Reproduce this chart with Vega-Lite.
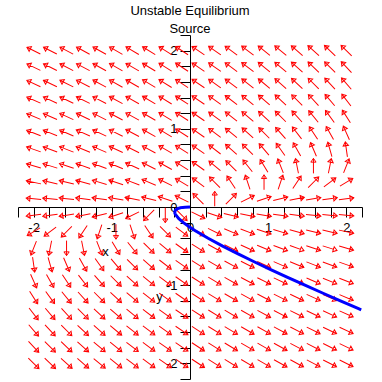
{
  "$schema": "https://vega.github.io/schema/vega-lite/v6.json",
  "width": 344,
  "height": 344,
  "autosize": {"type": "none"},
  "padding": {"left": 18, "top": 35, "right": 20, "bottom": 3},
  "background": "white",
  "config": {"view": {"stroke": null}, "axis": {"labelOverlap": false}},
  "title": {
    "text": ["Unstable Equilibrium", "Source"],
    "font": "Liberation Sans",
    "fontSize": 13,
    "fontWeight": "normal",
    "color": "black",
    "anchor": "middle",
    "lineHeight": 17.5,
    "offset": -1
  },
  "datasets": {
    "arrows": [
      {"x":-2,"y":2,"a":-63.4},{"x":-1.789,"y":2,"a":-62.8},{"x":-1.579,"y":2,"a":-62.2},{"x":-1.368,"y":2,"a":-61.5},{"x":-1.158,"y":2,"a":-60.8},{"x":-0.947,"y":2,"a":-60.1},{"x":-0.737,"y":2,"a":-59.3},{"x":-0.526,"y":2,"a":-58.5},{"x":-0.316,"y":2,"a":-57.7},{"x":-0.105,"y":2,"a":-56.8},{"x":0.105,"y":2,"a":-55.8},{"x":0.316,"y":2,"a":-54.9},{"x":0.526,"y":2,"a":-53.8},{"x":0.737,"y":2,"a":-52.8},{"x":0.947,"y":2,"a":-51.6},{"x":1.158,"y":2,"a":-50.4},{"x":1.368,"y":2,"a":-49.2},{"x":1.579,"y":2,"a":-47.9},{"x":1.789,"y":2,"a":-46.5},{"x":2,"y":2,"a":-45},
      {"x":-2,"y":1.789,"a":-64.1},{"x":-1.789,"y":1.789,"a":-63.4},{"x":-1.579,"y":1.789,"a":-62.7},{"x":-1.368,"y":1.789,"a":-62.0},{"x":-1.158,"y":1.789,"a":-61.3},{"x":-0.947,"y":1.789,"a":-60.5},{"x":-0.737,"y":1.789,"a":-59.6},{"x":-0.526,"y":1.789,"a":-58.7},{"x":-0.316,"y":1.789,"a":-57.8},{"x":-0.105,"y":1.789,"a":-56.8},{"x":0.105,"y":1.789,"a":-55.8},{"x":0.316,"y":1.789,"a":-54.7},{"x":0.526,"y":1.789,"a":-53.5},{"x":0.737,"y":1.789,"a":-52.3},{"x":0.947,"y":1.789,"a":-51.0},{"x":1.158,"y":1.789,"a":-49.6},{"x":1.368,"y":1.789,"a":-48.2},{"x":1.579,"y":1.789,"a":-46.6},{"x":1.789,"y":1.789,"a":-45},{"x":2,"y":1.789,"a":-43.3},
      {"x":-2,"y":1.579,"a":-64.9},{"x":-1.789,"y":1.579,"a":-64.2},{"x":-1.579,"y":1.579,"a":-63.4},{"x":-1.368,"y":1.579,"a":-62.6},{"x":-1.158,"y":1.579,"a":-61.8},{"x":-0.947,"y":1.579,"a":-60.9},{"x":-0.737,"y":1.579,"a":-60.0},{"x":-0.526,"y":1.579,"a":-59.0},{"x":-0.316,"y":1.579,"a":-58.0},{"x":-0.105,"y":1.579,"a":-56.9},{"x":0.105,"y":1.579,"a":-55.7},{"x":0.316,"y":1.579,"a":-54.5},{"x":0.526,"y":1.579,"a":-53.1},{"x":0.737,"y":1.579,"a":-51.7},{"x":0.947,"y":1.579,"a":-50.2},{"x":1.158,"y":1.579,"a":-48.6},{"x":1.368,"y":1.579,"a":-46.9},{"x":1.579,"y":1.579,"a":-45},{"x":1.789,"y":1.579,"a":-43.0},{"x":2,"y":1.579,"a":-40.9},
      {"x":-2,"y":1.368,"a":-65.9},{"x":-1.789,"y":1.368,"a":-65.1},{"x":-1.579,"y":1.368,"a":-64.3},{"x":-1.368,"y":1.368,"a":-63.4},{"x":-1.158,"y":1.368,"a":-62.5},{"x":-0.947,"y":1.368,"a":-61.6},{"x":-0.737,"y":1.368,"a":-60.5},{"x":-0.526,"y":1.368,"a":-59.4},{"x":-0.316,"y":1.368,"a":-58.2},{"x":-0.105,"y":1.368,"a":-57.0},{"x":0.105,"y":1.368,"a":-55.6},{"x":0.316,"y":1.368,"a":-54.2},{"x":0.526,"y":1.368,"a":-52.6},{"x":0.737,"y":1.368,"a":-50.9},{"x":0.947,"y":1.368,"a":-49.1},{"x":1.158,"y":1.368,"a":-47.1},{"x":1.368,"y":1.368,"a":-45},{"x":1.579,"y":1.368,"a":-42.7},{"x":1.789,"y":1.368,"a":-40.2},{"x":2,"y":1.368,"a":-37.6},
      {"x":-2,"y":1.158,"a":-67.1},{"x":-1.789,"y":1.158,"a":-66.3},{"x":-1.579,"y":1.158,"a":-65.4},{"x":-1.368,"y":1.158,"a":-64.4},{"x":-1.158,"y":1.158,"a":-63.4},{"x":-0.947,"y":1.158,"a":-62.4},{"x":-0.737,"y":1.158,"a":-61.2},{"x":-0.526,"y":1.158,"a":-59.9},{"x":-0.316,"y":1.158,"a":-58.6},{"x":-0.105,"y":1.158,"a":-57.1},{"x":0.105,"y":1.158,"a":-55.5},{"x":0.316,"y":1.158,"a":-53.8},{"x":0.526,"y":1.158,"a":-51.8},{"x":0.737,"y":1.158,"a":-49.8},{"x":0.947,"y":1.158,"a":-47.5},{"x":1.158,"y":1.158,"a":-45},{"x":1.368,"y":1.158,"a":-42.3},{"x":1.579,"y":1.158,"a":-39.3},{"x":1.789,"y":1.158,"a":-36.0},{"x":2,"y":1.158,"a":-32.5},
      {"x":-2,"y":0.947,"a":-68.6},{"x":-1.789,"y":0.947,"a":-67.7},{"x":-1.579,"y":0.947,"a":-66.8},{"x":-1.368,"y":0.947,"a":-65.8},{"x":-1.158,"y":0.947,"a":-64.7},{"x":-0.947,"y":0.947,"a":-63.4},{"x":-0.737,"y":0.947,"a":-62.1},{"x":-0.526,"y":0.947,"a":-60.6},{"x":-0.316,"y":0.947,"a":-59.0},{"x":-0.105,"y":0.947,"a":-57.3},{"x":0.105,"y":0.947,"a":-55.3},{"x":0.316,"y":0.947,"a":-53.1},{"x":0.526,"y":0.947,"a":-50.7},{"x":0.737,"y":0.947,"a":-48.0},{"x":0.947,"y":0.947,"a":-45},{"x":1.158,"y":0.947,"a":-41.6},{"x":1.368,"y":0.947,"a":-37.9},{"x":1.579,"y":0.947,"a":-33.7},{"x":1.789,"y":0.947,"a":-29.1},{"x":2,"y":0.947,"a":-24.0},
      {"x":-2,"y":0.737,"a":-70.7},{"x":-1.789,"y":0.737,"a":-69.8},{"x":-1.579,"y":0.737,"a":-68.7},{"x":-1.368,"y":0.737,"a":-67.6},{"x":-1.158,"y":0.737,"a":-66.4},{"x":-0.947,"y":0.737,"a":-65.0},{"x":-0.737,"y":0.737,"a":-63.4},{"x":-0.526,"y":0.737,"a":-61.7},{"x":-0.316,"y":0.737,"a":-59.7},{"x":-0.105,"y":0.737,"a":-57.5},{"x":0.105,"y":0.737,"a":-55.0},{"x":0.316,"y":0.737,"a":-52.1},{"x":0.526,"y":0.737,"a":-48.8},{"x":0.737,"y":0.737,"a":-45},{"x":0.947,"y":0.737,"a":-40.6},{"x":1.158,"y":0.737,"a":-35.5},{"x":1.368,"y":0.737,"a":-29.7},{"x":1.579,"y":0.737,"a":-23.2},{"x":1.789,"y":0.737,"a":-16.0},{"x":2,"y":0.737,"a":-8.1},
      {"x":-2,"y":0.526,"a":-73.6},{"x":-1.789,"y":0.526,"a":-72.6},{"x":-1.579,"y":0.526,"a":-71.6},{"x":-1.368,"y":0.526,"a":-70.3},{"x":-1.158,"y":0.526,"a":-69.0},{"x":-0.947,"y":0.526,"a":-67.4},{"x":-0.737,"y":0.526,"a":-65.6},{"x":-0.526,"y":0.526,"a":-63.4},{"x":-0.316,"y":0.526,"a":-60.9},{"x":-0.105,"y":0.526,"a":-58.0},{"x":0.105,"y":0.526,"a":-54.5},{"x":0.316,"y":0.526,"a":-50.2},{"x":0.526,"y":0.526,"a":-45},{"x":0.737,"y":0.526,"a":-38.7},{"x":0.947,"y":0.526,"a":-31.0},{"x":1.158,"y":0.526,"a":-21.8},{"x":1.368,"y":0.526,"a":-11.3},{"x":1.579,"y":0.526,"a":0},{"x":1.789,"y":0.526,"a":11.3},{"x":2,"y":0.526,"a":21.8},
      {"x":-2,"y":0.316,"a":-77.9},{"x":-1.789,"y":0.316,"a":-77.0},{"x":-1.579,"y":0.316,"a":-76.0},{"x":-1.368,"y":0.316,"a":-74.7},{"x":-1.158,"y":0.316,"a":-73.3},{"x":-0.947,"y":0.316,"a":-71.6},{"x":-0.737,"y":0.316,"a":-69.4},{"x":-0.526,"y":0.316,"a":-66.8},{"x":-0.316,"y":0.316,"a":-63.4},{"x":-0.105,"y":0.316,"a":-59.0},{"x":0.105,"y":0.316,"a":-53.1},{"x":0.316,"y":0.316,"a":-45},{"x":0.526,"y":0.316,"a":-33.7},{"x":0.737,"y":0.316,"a":-18.4},{"x":0.947,"y":0.316,"a":0},{"x":1.158,"y":0.316,"a":18.4},{"x":1.368,"y":0.316,"a":33.7},{"x":1.579,"y":0.316,"a":45},{"x":1.789,"y":0.316,"a":53.1},{"x":2,"y":0.316,"a":59.0},
      {"x":-2,"y":0.105,"a":-84.8},{"x":-1.789,"y":0.105,"a":-84.3},{"x":-1.579,"y":0.105,"a":-83.7},{"x":-1.368,"y":0.105,"a":-82.9},{"x":-1.158,"y":0.105,"a":-81.9},{"x":-0.947,"y":0.105,"a":-80.5},{"x":-0.737,"y":0.105,"a":-78.7},{"x":-0.526,"y":0.105,"a":-76.0},{"x":-0.316,"y":0.105,"a":-71.6},{"x":-0.105,"y":0.105,"a":-63.4},{"x":0.105,"y":0.105,"a":-45},{"x":0.316,"y":0.105,"a":0},{"x":0.526,"y":0.105,"a":45},{"x":0.737,"y":0.105,"a":63.4},{"x":0.947,"y":0.105,"a":71.6},{"x":1.158,"y":0.105,"a":76.0},{"x":1.368,"y":0.105,"a":78.7},{"x":1.579,"y":0.105,"a":80.5},{"x":1.789,"y":0.105,"a":81.9},{"x":2,"y":0.105,"a":82.9},
      {"x":-2,"y":-0.105,"a":262.9},{"x":-1.789,"y":-0.105,"a":261.9},{"x":-1.579,"y":-0.105,"a":260.5},{"x":-1.368,"y":-0.105,"a":258.7},{"x":-1.158,"y":-0.105,"a":256.0},{"x":-0.947,"y":-0.105,"a":251.6},{"x":-0.737,"y":-0.105,"a":243.4},{"x":-0.526,"y":-0.105,"a":225},{"x":-0.316,"y":-0.105,"a":180},{"x":-0.105,"y":-0.105,"a":135},{"x":0.105,"y":-0.105,"a":116.6},{"x":0.316,"y":-0.105,"a":108.4},{"x":0.526,"y":-0.105,"a":104.0},{"x":0.737,"y":-0.105,"a":101.3},{"x":0.947,"y":-0.105,"a":99.5},{"x":1.158,"y":-0.105,"a":98.1},{"x":1.368,"y":-0.105,"a":97.1},{"x":1.579,"y":-0.105,"a":96.3},{"x":1.789,"y":-0.105,"a":95.7},{"x":2,"y":-0.105,"a":95.2},
      {"x":-2,"y":-0.316,"a":239.0},{"x":-1.789,"y":-0.316,"a":233.1},{"x":-1.579,"y":-0.316,"a":225},{"x":-1.368,"y":-0.316,"a":213.7},{"x":-1.158,"y":-0.316,"a":198.4},{"x":-0.947,"y":-0.316,"a":180},{"x":-0.737,"y":-0.316,"a":161.6},{"x":-0.526,"y":-0.316,"a":146.3},{"x":-0.316,"y":-0.316,"a":135},{"x":-0.105,"y":-0.316,"a":126.9},{"x":0.105,"y":-0.316,"a":121.0},{"x":0.316,"y":-0.316,"a":116.6},{"x":0.526,"y":-0.316,"a":113.2},{"x":0.737,"y":-0.316,"a":110.6},{"x":0.947,"y":-0.316,"a":108.4},{"x":1.158,"y":-0.316,"a":106.7},{"x":1.368,"y":-0.316,"a":105.3},{"x":1.579,"y":-0.316,"a":104.0},{"x":1.789,"y":-0.316,"a":103.0},{"x":2,"y":-0.316,"a":102.1},
      {"x":-2,"y":-0.526,"a":201.8},{"x":-1.789,"y":-0.526,"a":191.3},{"x":-1.579,"y":-0.526,"a":180},{"x":-1.368,"y":-0.526,"a":168.7},{"x":-1.158,"y":-0.526,"a":158.2},{"x":-0.947,"y":-0.526,"a":149.0},{"x":-0.737,"y":-0.526,"a":141.3},{"x":-0.526,"y":-0.526,"a":135},{"x":-0.316,"y":-0.526,"a":129.8},{"x":-0.105,"y":-0.526,"a":125.5},{"x":0.105,"y":-0.526,"a":122.0},{"x":0.316,"y":-0.526,"a":119.1},{"x":0.526,"y":-0.526,"a":116.6},{"x":0.737,"y":-0.526,"a":114.4},{"x":0.947,"y":-0.526,"a":112.6},{"x":1.158,"y":-0.526,"a":111.0},{"x":1.368,"y":-0.526,"a":109.7},{"x":1.579,"y":-0.526,"a":108.4},{"x":1.789,"y":-0.526,"a":107.4},{"x":2,"y":-0.526,"a":106.4},
      {"x":-2,"y":-0.737,"a":171.9},{"x":-1.789,"y":-0.737,"a":164.0},{"x":-1.579,"y":-0.737,"a":156.8},{"x":-1.368,"y":-0.737,"a":150.3},{"x":-1.158,"y":-0.737,"a":144.5},{"x":-0.947,"y":-0.737,"a":139.4},{"x":-0.737,"y":-0.737,"a":135},{"x":-0.526,"y":-0.737,"a":131.2},{"x":-0.316,"y":-0.737,"a":127.9},{"x":-0.105,"y":-0.737,"a":125.0},{"x":0.105,"y":-0.737,"a":122.5},{"x":0.316,"y":-0.737,"a":120.3},{"x":0.526,"y":-0.737,"a":118.3},{"x":0.737,"y":-0.737,"a":116.6},{"x":0.947,"y":-0.737,"a":115.0},{"x":1.158,"y":-0.737,"a":113.6},{"x":1.368,"y":-0.737,"a":112.4},{"x":1.579,"y":-0.737,"a":111.3},{"x":1.789,"y":-0.737,"a":110.2},{"x":2,"y":-0.737,"a":109.3},
      {"x":-2,"y":-0.947,"a":156.0},{"x":-1.789,"y":-0.947,"a":150.9},{"x":-1.579,"y":-0.947,"a":146.3},{"x":-1.368,"y":-0.947,"a":142.1},{"x":-1.158,"y":-0.947,"a":138.4},{"x":-0.947,"y":-0.947,"a":135},{"x":-0.737,"y":-0.947,"a":132.0},{"x":-0.526,"y":-0.947,"a":129.3},{"x":-0.316,"y":-0.947,"a":126.9},{"x":-0.105,"y":-0.947,"a":124.7},{"x":0.105,"y":-0.947,"a":122.7},{"x":0.316,"y":-0.947,"a":121.0},{"x":0.526,"y":-0.947,"a":119.4},{"x":0.737,"y":-0.947,"a":117.9},{"x":0.947,"y":-0.947,"a":116.6},{"x":1.158,"y":-0.947,"a":115.3},{"x":1.368,"y":-0.947,"a":114.2},{"x":1.579,"y":-0.947,"a":113.2},{"x":1.789,"y":-0.947,"a":112.3},{"x":2,"y":-0.947,"a":111.4},
      {"x":-2,"y":-1.158,"a":147.5},{"x":-1.789,"y":-1.158,"a":144.0},{"x":-1.579,"y":-1.158,"a":140.7},{"x":-1.368,"y":-1.158,"a":137.7},{"x":-1.158,"y":-1.158,"a":135},{"x":-0.947,"y":-1.158,"a":132.5},{"x":-0.737,"y":-1.158,"a":130.2},{"x":-0.526,"y":-1.158,"a":128.2},{"x":-0.316,"y":-1.158,"a":126.2},{"x":-0.105,"y":-1.158,"a":124.5},{"x":0.105,"y":-1.158,"a":122.9},{"x":0.316,"y":-1.158,"a":121.4},{"x":0.526,"y":-1.158,"a":120.1},{"x":0.737,"y":-1.158,"a":118.8},{"x":0.947,"y":-1.158,"a":117.6},{"x":1.158,"y":-1.158,"a":116.6},{"x":1.368,"y":-1.158,"a":115.6},{"x":1.579,"y":-1.158,"a":114.6},{"x":1.789,"y":-1.158,"a":113.7},{"x":2,"y":-1.158,"a":112.9},
      {"x":-2,"y":-1.368,"a":142.4},{"x":-1.789,"y":-1.368,"a":139.8},{"x":-1.579,"y":-1.368,"a":137.3},{"x":-1.368,"y":-1.368,"a":135},{"x":-1.158,"y":-1.368,"a":132.9},{"x":-0.947,"y":-1.368,"a":130.9},{"x":-0.737,"y":-1.368,"a":129.1},{"x":-0.526,"y":-1.368,"a":127.4},{"x":-0.316,"y":-1.368,"a":125.8},{"x":-0.105,"y":-1.368,"a":124.4},{"x":0.105,"y":-1.368,"a":123.0},{"x":0.316,"y":-1.368,"a":121.8},{"x":0.526,"y":-1.368,"a":120.6},{"x":0.737,"y":-1.368,"a":119.5},{"x":0.947,"y":-1.368,"a":118.4},{"x":1.158,"y":-1.368,"a":117.5},{"x":1.368,"y":-1.368,"a":116.6},{"x":1.579,"y":-1.368,"a":115.7},{"x":1.789,"y":-1.368,"a":114.9},{"x":2,"y":-1.368,"a":114.1},
      {"x":-2,"y":-1.579,"a":139.1},{"x":-1.789,"y":-1.579,"a":137.0},{"x":-1.579,"y":-1.579,"a":135},{"x":-1.368,"y":-1.579,"a":133.1},{"x":-1.158,"y":-1.579,"a":131.4},{"x":-0.947,"y":-1.579,"a":129.8},{"x":-0.737,"y":-1.579,"a":128.3},{"x":-0.526,"y":-1.579,"a":126.9},{"x":-0.316,"y":-1.579,"a":125.5},{"x":-0.105,"y":-1.579,"a":124.3},{"x":0.105,"y":-1.579,"a":123.1},{"x":0.316,"y":-1.579,"a":122.0},{"x":0.526,"y":-1.579,"a":121.0},{"x":0.737,"y":-1.579,"a":120.0},{"x":0.947,"y":-1.579,"a":119.1},{"x":1.158,"y":-1.579,"a":118.2},{"x":1.368,"y":-1.579,"a":117.4},{"x":1.579,"y":-1.579,"a":116.6},{"x":1.789,"y":-1.579,"a":115.8},{"x":2,"y":-1.579,"a":115.1},
      {"x":-2,"y":-1.789,"a":136.7},{"x":-1.789,"y":-1.789,"a":135},{"x":-1.579,"y":-1.789,"a":133.4},{"x":-1.368,"y":-1.789,"a":131.8},{"x":-1.158,"y":-1.789,"a":130.4},{"x":-0.947,"y":-1.789,"a":129.0},{"x":-0.737,"y":-1.789,"a":127.7},{"x":-0.526,"y":-1.789,"a":126.5},{"x":-0.316,"y":-1.789,"a":125.3},{"x":-0.105,"y":-1.789,"a":124.2},{"x":0.105,"y":-1.789,"a":123.2},{"x":0.316,"y":-1.789,"a":122.2},{"x":0.526,"y":-1.789,"a":121.3},{"x":0.737,"y":-1.789,"a":120.4},{"x":0.947,"y":-1.789,"a":119.5},{"x":1.158,"y":-1.789,"a":118.7},{"x":1.368,"y":-1.789,"a":118.0},{"x":1.579,"y":-1.789,"a":117.3},{"x":1.789,"y":-1.789,"a":116.6},{"x":2,"y":-1.789,"a":115.9},
      {"x":-2,"y":-2,"a":135},{"x":-1.789,"y":-2,"a":133.5},{"x":-1.579,"y":-2,"a":132.1},{"x":-1.368,"y":-2,"a":130.8},{"x":-1.158,"y":-2,"a":129.6},{"x":-0.947,"y":-2,"a":128.4},{"x":-0.737,"y":-2,"a":127.2},{"x":-0.526,"y":-2,"a":126.2},{"x":-0.316,"y":-2,"a":125.1},{"x":-0.105,"y":-2,"a":124.2},{"x":0.105,"y":-2,"a":123.2},{"x":0.316,"y":-2,"a":122.3},{"x":0.526,"y":-2,"a":121.5},{"x":0.737,"y":-2,"a":120.7},{"x":0.947,"y":-2,"a":119.9},{"x":1.158,"y":-2,"a":119.2},{"x":1.368,"y":-2,"a":118.5},{"x":1.579,"y":-2,"a":117.8},{"x":1.789,"y":-2,"a":117.2},{"x":2,"y":-2,"a":116.6}
    ],
    "curve": [
      {"t":0,"x":0,"y":0},{"t":1,"x":-0.062,"y":-0.002},{"t":2,"x":-0.093,"y":-0.005},{"t":3,"x":-0.123,"y":-0.01},{"t":4,"x":-0.156,"y":-0.02},{"t":5,"x":-0.186,"y":-0.04},{"t":6,"x":-0.195,"y":-0.06},{"t":7,"x":-0.193,"y":-0.08},{"t":8,"x":-0.184,"y":-0.1},{"t":9,"x":-0.143,"y":-0.15},{"t":10,"x":-0.084,"y":-0.2},{"t":11,"x":-0.015,"y":-0.25},{"t":12,"x":0.062,"y":-0.3},{"t":13,"x":0.232,"y":-0.4},{"t":14,"x":0.418,"y":-0.5},{"t":15,"x":0.615,"y":-0.6},{"t":16,"x":0.82,"y":-0.7},{"t":17,"x":1.032,"y":-0.8},{"t":18,"x":1.248,"y":-0.9},{"t":19,"x":1.47,"y":-1.0},{"t":20,"x":1.695,"y":-1.1},{"t":21,"x":1.924,"y":-1.2},{"t":22,"x":2.156,"y":-1.3},{"t":23,"x":2.19,"y":-1.315}
    ]
  },
  "resolve": {"scale": {"x": "shared", "y": "shared"}, "axis": {"x": "independent", "y": "independent"}},
  "layer": [
    {
      "data": {"name": "arrows"},
      "mark": {
        "type": "point",
        "shape": "M0,1L0,-1M-0.35,-0.5L0,-1L0.35,-0.5Z",
        "size": 225,
        "filled": false,
        "stroke": "#ff0000",
        "strokeWidth": 1,
        "opacity": 1
      },
      "encoding": {
        "x": {
          "field": "x", "type": "quantitative",
          "scale": {"domain": [-2.2, 2.2], "nice": false, "zero": false},
          "axis": {
            "orient": "bottom", "offset": -172,
            "values": [-2, -1, 0, 1, 2],
            "labelExpr": "'' + datum.value",
            "grid": false, "tickSize": 10, "tickColor": "black", "domainColor": "black",
            "labelColor": "black", "labelFont": "Liberation Sans", "labelFontSize": 13,
            "labelPadding": 4, "labelFlush": false, "labelOverlap": false, "labelBound": false,
            "title": "x", "titleX": 87, "titleY": 44, "titleFont": "Liberation Sans", "titleFontSize": 13,
            "titleFontWeight": "normal", "titleColor": "black", "titleBaseline": "middle", "titleAlign": "center"
          }
        },
        "y": {
          "field": "y", "type": "quantitative",
          "scale": {"domain": [-2.2, 2.2], "nice": false, "zero": false},
          "axis": {
            "orient": "left", "offset": -172,
            "values": [-2, -1, 0, 1, 2],
            "labelExpr": "'' + datum.value",
            "grid": false, "tickSize": 10, "tickColor": "black", "domainColor": "black",
            "labelColor": "black", "labelFont": "Liberation Sans", "labelFontSize": 13,
            "labelPadding": 3, "labelFlush": false, "labelOverlap": false, "labelBound": false,
            "title": "y", "titleX": -31, "titleY": 261, "titleAngle": 0, "titleFont": "Liberation Sans", "titleFontSize": 13,
            "titleFontWeight": "normal", "titleColor": "black", "titleBaseline": "middle", "titleAlign": "center"
          }
        },
        "angle": {"field": "a", "type": "quantitative", "scale": null}
      }
    },
    {
      "data": {"name": "curve"},
      "mark": {"type": "line", "color": "#0000ff", "strokeWidth": 3},
      "encoding": {
        "x": {
          "field": "x", "type": "quantitative",
          "axis": {
            "orient": "bottom", "offset": -172,
            "values": [-2.2,-1.8,-1.6,-1.4,-1.2,-0.8,-0.6,-0.4,-0.2,0.2,0.4,0.6,0.8,1.2,1.4,1.6,1.8,2.2],
            "labels": false, "domain": false, "grid": false, "tickSize": 10, "tickColor": "black", "title": null
          }
        },
        "y": {
          "field": "y", "type": "quantitative",
          "axis": {
            "orient": "left", "offset": -172,
            "values": [-2.2,-1.8,-1.6,-1.4,-1.2,-0.8,-0.6,-0.4,-0.2,0.2,0.4,0.6,0.8,1.2,1.4,1.6,1.8,2.2],
            "labels": false, "domain": false, "grid": false, "tickSize": 10, "tickColor": "black", "title": null
          }
        },
        "order": {"field": "t", "type": "quantitative"}
      }
    }
  ]
}
